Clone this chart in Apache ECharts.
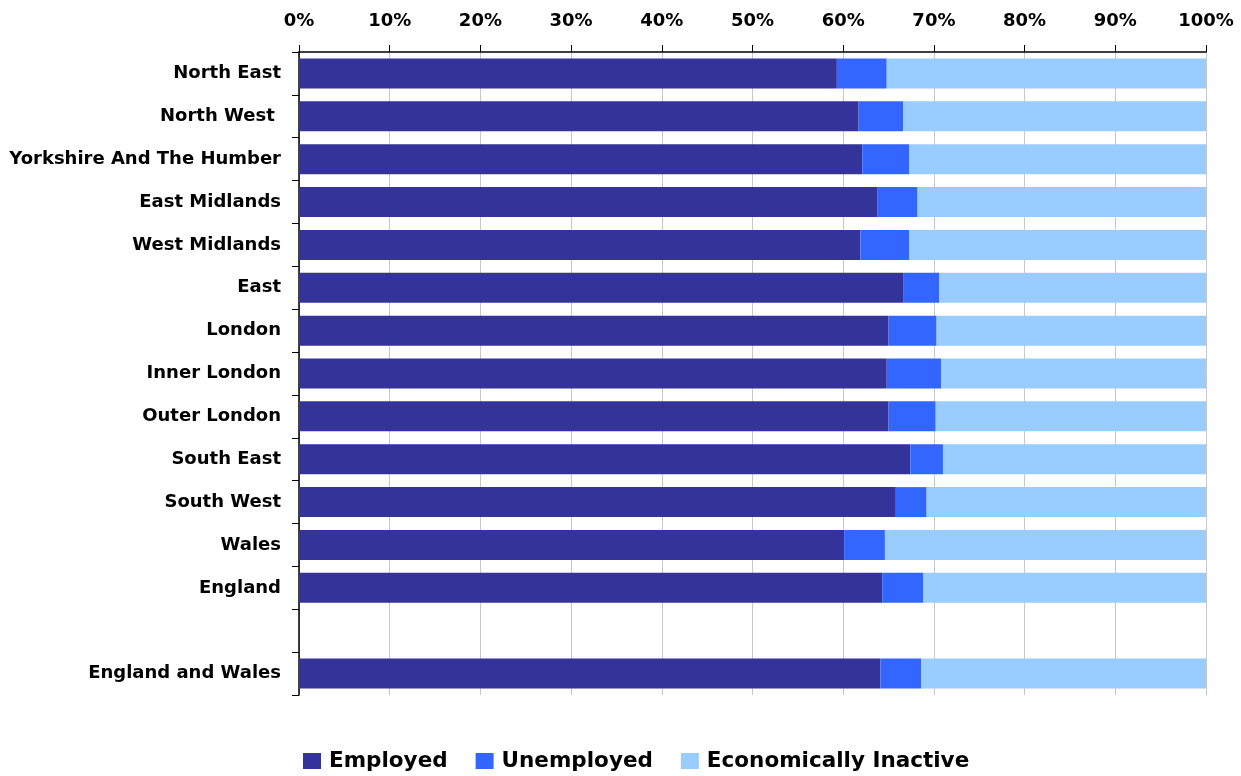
<!DOCTYPE html>
<html>
<head>
<meta charset="utf-8">
<script src="https://cdn.jsdelivr.net/npm/echarts@6/dist/echarts.min.js"></script>
<style>
  html, body { margin: 0; padding: 0; background: #ffffff; }
  #chart { width: 1241px; height: 776px; }
</style>
</head>
<body>
<div id="chart"></div>
<script>
// Regions, top to bottom (empty entry leaves a gap row)
const regions = [
  'North East', 'North West ', 'Yorkshire And The Humber', 'East Midlands',
  'West Midlands', 'East', 'London', 'Inner London', 'Outer London',
  'South East', 'South West', 'Wales', 'England', '', 'England and Wales'
];
// Shares of population (%)
const employed = [59.3, 61.7, 62.1, 63.8, 61.9, 66.6, 65.0, 64.8, 65.0, 67.4, 65.8, 60.1, 64.3, null, 64.1];
const unemployed = [5.5, 4.9, 5.2, 4.4, 5.4, 4.0, 5.3, 6.0, 5.2, 3.6, 3.4, 4.5, 4.5, null, 4.5];
const inactive = [35.2, 33.4, 32.7, 31.8, 32.7, 29.4, 29.7, 29.2, 29.8, 29.0, 30.8, 35.4, 31.2, null, 31.4];

const FONT = '"DejaVu Sans", sans-serif';

const chart = echarts.init(document.getElementById('chart'), null, { renderer: 'canvas' });

function bar(name, data, color) {
  return {
    name: name,
    type: 'bar',
    stack: 'total',
    data: data,
    barCategoryGap: '30%',
    itemStyle: { color: color },
    emphasis: { disabled: true }
  };
}

chart.setOption({
  animation: false,
  textStyle: { fontFamily: FONT },
  grid: { left: 299, right: 35, top: 52, bottom: 81 },
  xAxis: {
    type: 'value',
    position: 'top',
    min: 0,
    max: 100,
    interval: 10,
    axisLine: { show: true, lineStyle: { color: '#000000', width: 1.5 } },
    axisTick: { show: true, length: 7, lineStyle: { color: '#000000' } },
    splitLine: { show: true, lineStyle: { color: '#c8c8c8', width: 1 } },
    axisLabel: {
      formatter: '{value}%',
      color: '#000000',
      fontFamily: FONT,
      fontWeight: 'bold',
      fontSize: 18,
      margin: 22
    }
  },
  yAxis: {
    type: 'category',
    inverse: true,
    data: regions,
    axisLine: { show: true, lineStyle: { color: '#000000', width: 1.5 } },
    axisTick: { show: true, length: 7, lineStyle: { color: '#000000' } },
    splitLine: { show: false },
    axisLabel: {
      color: '#000000',
      fontFamily: FONT,
      fontWeight: 'bold',
      fontSize: 18,
      margin: 18,
      padding: [4, 0, 0, 0]
    }
  },
  legend: {
    top: 745,
    left: 298,
    itemWidth: 18,
    itemHeight: 16,
    itemGap: 28,
    icon: 'rect',
    textStyle: {
      color: '#000000',
      fontFamily: FONT,
      fontWeight: 'bold',
      fontSize: 21.5,
      padding: [0, 0, 0, 3]
    },
    data: ['Employed', 'Unemployed', 'Economically Inactive']
  },
  series: [
    bar('Employed', employed, '#333399'),
    bar('Unemployed', unemployed, '#3366ff'),
    bar('Economically Inactive', inactive, '#99ccff')
  ]
});
</script>
</body>
</html>
